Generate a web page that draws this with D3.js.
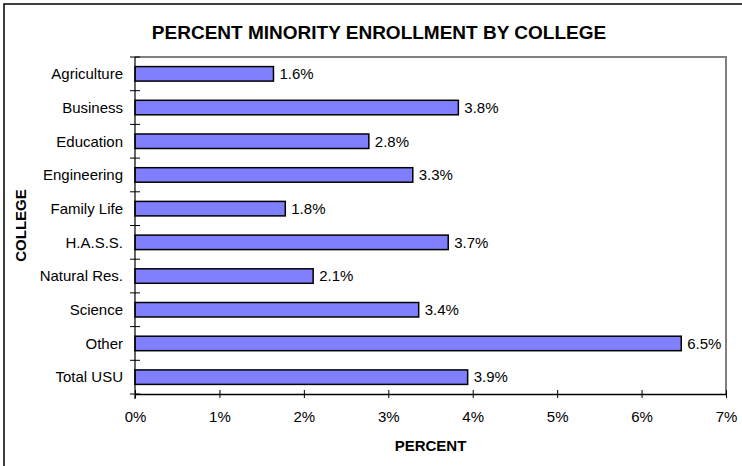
<!DOCTYPE html>
<html>
<head>
<meta charset="utf-8">
<script src="https://cdn.jsdelivr.net/npm/d3@7"></script>
<style>
  body { margin: 0; background: #fff; }
</style>
</head>
<body>
<div id="chart-container"></div>
<script>
/* global d3 */

const categories = [
  'Agriculture',
  'Business',
  'Education',
  'Engineering',
  'Family Life',
  'H.A.S.S.',
  'Natural Res.',
  'Science',
  'Other',
  'Total USU',
]
const percentValues = [1.64, 3.83, 2.77, 3.29, 1.78, 3.71, 2.11, 3.36, 6.47, 3.94]
const xTicks = [0, 1, 2, 3, 4, 5, 6, 7]

const chartTitle = 'PERCENT MINORITY ENROLLMENT BY COLLEGE'
const xTitle = 'PERCENT'
const yTitle = 'COLLEGE'

// Options:
const width = 742
const height = 466
const plotLeft = 135
const plotRight = 726
const plotTop = 57
const plotBottom = 394
const barColor = '#8080ff'
const fontFamily = 'Liberation Sans, Arial, sans-serif'
const labelSize = 15

const data = categories.map((c, i) => ({ name: c, value: percentValues[i] }))

const svg = d3
  .select('#chart-container')
  .append('svg')
  .attr('width', width)
  .attr('height', height)
  .attr('viewBox', `0 0 ${width} ${height}`)
  .style('display', 'block')
  .attr('font-family', fontFamily)

// outer frame
svg
  .append('rect')
  .attr('x', 4)
  .attr('y', 4)
  .attr('width', width + 20)
  .attr('height', height + 20)
  .attr('fill', 'none')
  .attr('stroke', '#000')
  .attr('stroke-width', 1.5)

const xScale = d3
  .scaleLinear()
  .domain([0, d3.max(xTicks)])
  .range([plotLeft, plotRight])

const yScale = d3
  .scaleBand()
  .domain(categories)
  .range([plotTop, plotBottom])
  .paddingInner(0.57)
  .paddingOuter(0.285)

const bandStep = (plotBottom - plotTop) / categories.length

// plot frame top and right (gray)
svg
  .append('path')
  .attr('d', `M${plotLeft},${plotTop}H${plotRight}V${plotBottom}`)
  .attr('fill', 'none')
  .attr('stroke', '#808080')
  .attr('stroke-width', 2)

// bars
svg
  .append('g')
  .selectAll('rect')
  .data(data)
  .join('rect')
  .attr('x', xScale(0))
  .attr('y', d => yScale(d.name))
  .attr('width', d => xScale(d.value) - xScale(0))
  .attr('height', yScale.bandwidth())
  .attr('fill', barColor)
  .attr('stroke', '#000')
  .attr('stroke-width', 1.5)

// value labels
svg
  .append('g')
  .attr('font-size', labelSize)
  .selectAll('text')
  .data(data)
  .join('text')
  .attr('x', d => xScale(d.value) + 6)
  .attr('y', d => yScale(d.name) + yScale.bandwidth() / 2)
  .attr('dy', '0.35em')
  .attr('fill', '#000')
  .text(d => `${d3.format('.1f')(d.value)}%`)

// y-axis
const yAxis = svg.append('g')
yAxis
  .append('line')
  .attr('x1', plotLeft)
  .attr('x2', plotLeft)
  .attr('y1', plotTop)
  .attr('y2', plotBottom + 5)
  .attr('stroke', '#000')
  .attr('stroke-width', 1.2)

yAxis
  .selectAll('line.tick')
  .data(d3.range(categories.length + 1))
  .join('line')
  .attr('class', 'tick')
  .attr('x1', plotLeft - 5)
  .attr('x2', plotLeft + 5)
  .attr('y1', i => plotTop + i * bandStep)
  .attr('y2', i => plotTop + i * bandStep)
  .attr('stroke', '#000')
  .attr('stroke-width', 1)

yAxis
  .selectAll('text')
  .data(categories)
  .join('text')
  .attr('x', plotLeft - 12)
  .attr('y', d => yScale(d) + yScale.bandwidth() / 2)
  .attr('dy', '0.35em')
  .attr('text-anchor', 'end')
  .attr('font-size', labelSize)
  .text(d => d)

// x-axis
svg
  .append('g')
  .attr('transform', `translate(0, ${plotBottom})`)
  .call(
    d3
      .axisBottom(xScale)
      .tickValues(xTicks)
      .tickSizeInner(4)
      .tickSizeOuter(0)
      .tickPadding(13)
      .tickFormat(d => `${d}%`),
  )
  .call(g => g.select('.domain').attr('stroke-width', 1.5))
  .call(g =>
    g
      .selectAll('.tick line')
      .attr('y1', -4)
      .attr('stroke-width', 1),
  )
  .call(g =>
    g
      .selectAll('.tick text')
      .attr('font-size', labelSize)
      .attr('font-family', fontFamily)
      .attr('fill', '#000'),
  )

// titles
svg
  .append('text')
  .attr('x', 379)
  .attr('y', 39)
  .attr('text-anchor', 'middle')
  .attr('font-size', 19)
  .attr('font-weight', 'bold')
  .text(chartTitle)

svg
  .append('text')
  .attr('x', (plotLeft + plotRight) / 2)
  .attr('y', 451)
  .attr('text-anchor', 'middle')
  .attr('font-size', 15)
  .attr('font-weight', 'bold')
  .text(xTitle)

svg
  .append('text')
  .attr('transform', `translate(26, ${(plotTop + plotBottom) / 2}) rotate(-90)`)
  .attr('text-anchor', 'middle')
  .attr('font-size', 15)
  .attr('font-weight', 'bold')
  .text(yTitle)
</script>
</body>
</html>
